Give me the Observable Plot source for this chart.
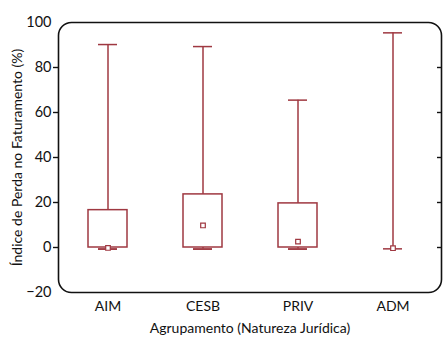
<!DOCTYPE html>
<html>
<head>
<meta charset="utf-8">
<script src="https://cdn.jsdelivr.net/npm/d3@7"></script>
<script src="https://cdn.jsdelivr.net/npm/@observablehq/plot@0.6"></script>
<style>
  html, body { margin: 0; padding: 0; background: #fff; }
  svg { font-family: Lato, "Open Sans", sans-serif; }
</style>
</head>
<body>
<div id="chart"></div>
<script>
const categories = ["AIM", "CESB", "PRIV", "ADM"];
const mins  = [-0.7, -0.7, -0.7, -0.6];
const q1s   = [0, 0, 0, null];
const q3s   = [16.6, 23.6, 19.6, null];
const maxs  = [90.2, 89.3, 65.5, 95.4];
const means = [-0.2, 9.8, 2.6, -0.3];
const yTicks = [-20, 0, 20, 40, 60, 80, 100];
const yTickMarks = [0, 20, 40, 60, 80];

const color = "#9f3841";
const rows = categories.map((c, i) => ({cat: c, min: mins[i], q1: q1s[i], q3: q3s[i], max: maxs[i], mean: means[i]}));
const boxes = rows.filter(d => d.q1 != null);

const plot = Plot.plot({
  width: 443,
  height: 337,
  marginLeft: 58,
  marginRight: 2,
  marginTop: 22,
  marginBottom: 45,
  style: {fontSize: "13px", fontFamily: "Lato, 'Open Sans', sans-serif", color: "#111"},
  x: {domain: categories, padding: 0, label: null},
  y: {domain: [-20, 100], label: null},
  marks: [
    // whiskers
    Plot.ruleX(rows, {x: "cat", y1: d => d.q3 ?? d.min, y2: "max", stroke: color, strokeWidth: 1.5}),
    Plot.ruleX(boxes, {x: "cat", y1: "min", y2: "q1", stroke: color, strokeWidth: 1.5}),
    // caps
    Plot.tickY(rows, {x: "cat", y: "max", stroke: color, strokeWidth: 1.5, insetLeft: 38, insetRight: 38}),
    Plot.tickY(rows, {x: "cat", y: "min", stroke: color, strokeWidth: 1.5, insetLeft: 38, insetRight: 38}),
    // boxes
    Plot.rect(boxes, {x: "cat", y1: "q1", y2: "q3", fill: "white", stroke: color, strokeWidth: 1.5, insetLeft: 28, insetRight: 28}),
    Plot.tickY(boxes, {x: "cat", y: "min", stroke: color, strokeWidth: 1.5, insetLeft: 38, insetRight: 38}),
    // mean markers
    Plot.dot(rows, {x: "cat", y: "mean", symbol: "square", r: 2.6, fill: "white", stroke: color, strokeWidth: 1.2}),
    // frame
    Plot.frame({rx: 13, ry: 13, stroke: "#111", strokeWidth: 1.6}),
    // axes
    Plot.axisY({ticks: yTicks, tickSize: 0, tickPadding: 7, fontSize: 14.5, label: null}),
    Plot.axisY({ticks: yTickMarks, tickSize: 5, tickFormat: () => "", label: null, stroke: "#111", strokeWidth: 1.4}),
    Plot.axisY({anchor: "right", ticks: yTickMarks, tickSize: -5, tickFormat: () => "", label: null, stroke: "#111", strokeWidth: 1.4}),
    Plot.axisX({tickSize: 0, tickPadding: 9, fontSize: 14, label: "Agrupamento (Natureza Jurídica)", labelAnchor: "center", labelOffset: 40, labelArrow: "none"}),
    Plot.text(["Índice de Perda no Faturamento (%)"], {frameAnchor: "left", textAnchor: "middle", dx: -41, rotate: -90, fontSize: 14, text: d => d})
  ]
});
document.getElementById("chart").appendChild(plot);
</script>
</body>
</html>
